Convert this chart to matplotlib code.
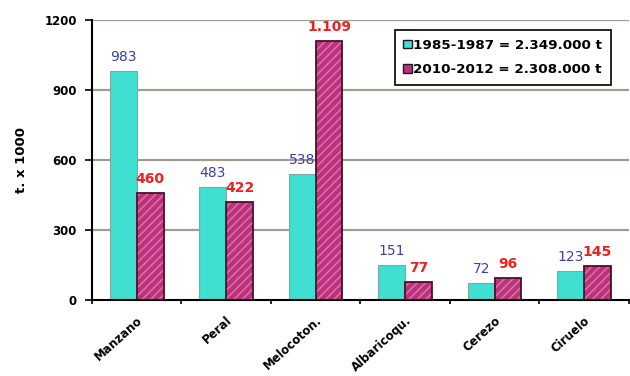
import matplotlib
matplotlib.use("Agg")
import matplotlib.pyplot as plt
from matplotlib.patches import Patch
import numpy as np

categories = ["Manzano", "Peral", "Melocoton.", "Albaricoqu.", "Cerezo", "Ciruelo"]
serie_1985 = [983, 483, 538, 151, 72, 123]
serie_2010 = [460, 422, 1109, 77, 96, 145]
legend_labels = ["1985-1987 = 2.349.000 t", "2010-2012 = 2.308.000 t"]
y_ticks = [0, 300, 600, 900, 1200]

plt.rcParams["font.family"] = ["DejaVu Sans"]
plt.rcParams["hatch.linewidth"] = 1.2

cyan = "#3fe0d2"
magenta = "#b8337a"
hatch_col = "#e06aa8"

fig = plt.figure(figsize=(6.3, 3.76), dpi=100)
ax = fig.add_axes([0.146, 0.202, 0.852, 0.745])

x = np.arange(len(categories))
w = 0.30

for yv in y_ticks[1:]:
    ax.axhline(yv, color="#a09c90", lw=1.6, zorder=0)

ax.bar(x - w / 2, serie_1985, w, color=cyan, edgecolor="#7fa8a4", lw=0.8, zorder=2)
ax.bar(x + w / 2, serie_2010, w, color=magenta, edgecolor=hatch_col, hatch="////",
       lw=0, zorder=2)
# dark outline drawn separately so the hatch keeps its lighter colour
ax.bar(x + w / 2, serie_2010, w, fill=False, edgecolor="#4a1028", lw=1.3, zorder=3)


def fmt(v):
    return f"{v:,}".replace(",", ".")


for xi, v in zip(x, serie_1985):
    ax.text(xi - w / 2, v + 30, fmt(v), ha="center", va="bottom", fontsize=10,
            color="#3b3fa8", zorder=4)
for xi, v in zip(x, serie_2010):
    ax.text(xi + w / 2, v + 30, fmt(v), ha="center", va="bottom", fontsize=10,
            color="#f02020", fontweight="bold", zorder=4)

ax.set_xlim(-0.5, len(categories) - 0.5)
ax.set_ylim(0, 1200)
ax.set_yticks(y_ticks)
ax.set_yticklabels([str(t) for t in y_ticks], fontsize=8.5, fontweight="bold")
ax.set_xticks(x)
ax.set_xticklabels(categories, rotation=42, ha="right", rotation_mode="anchor",
                   fontsize=8.5, fontweight="bold")
ax.tick_params(axis="x", length=0, pad=10)
ax.set_xticks(np.arange(-0.5, len(categories)), minor=True)
ax.tick_params(axis="x", which="minor", length=3, width=1.2, direction="out")
ax.tick_params(axis="y", length=5, width=1.2, direction="out", pad=6)
ax.set_ylabel("t. x 1000", fontsize=9.5, fontweight="bold", labelpad=12)

for s in ["top", "right"]:
    ax.spines[s].set_visible(False)
ax.spines["left"].set_linewidth(1.5)
ax.spines["bottom"].set_linewidth(1.5)

handles = [Patch(facecolor=cyan, edgecolor="#1a1a1a", lw=1),
           Patch(facecolor=magenta, edgecolor="#1a1a1a", lw=1)]
leg = ax.legend(handles, legend_labels, loc="upper left", bbox_to_anchor=(0.564, 0.964),
                borderaxespad=0, frameon=True, fancybox=False, edgecolor="black",
                framealpha=1, prop={"size": 9.7, "weight": "bold"}, handlelength=0.6,
                handleheight=0.6, handletextpad=0.1, borderpad=0.65, labelspacing=0.85)
leg.get_frame().set_linewidth(1.2)

fig.savefig("out.png", dpi=100)
